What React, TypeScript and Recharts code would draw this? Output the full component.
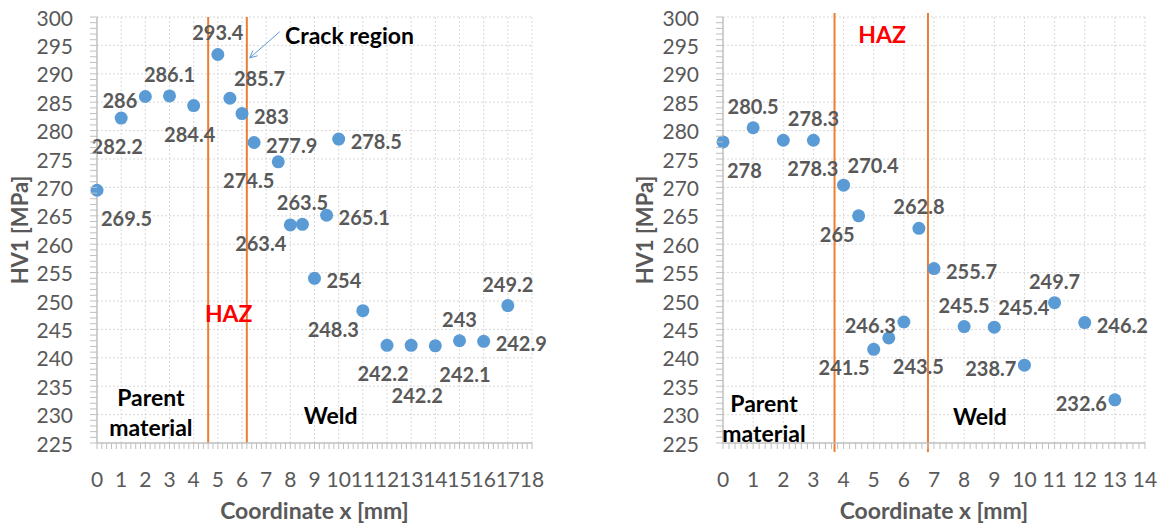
import React from 'react';
import { ScatterChart, Scatter, XAxis, YAxis, ReferenceLine, ReferenceDot } from 'recharts';

// left panel: crack sample
const leftX = [0, 1, 2, 3, 4, 5, 5.5, 6, 6.5, 7.5, 8, 8.5, 9, 9.5, 10, 11, 12, 13, 14, 15, 16, 17];
const leftHV = [269.5, 282.2, 286, 286.1, 284.4, 293.4, 285.7, 283, 277.9, 274.5, 263.4, 263.5, 254, 265.1, 278.5, 248.3, 242.2, 242.2, 242.1, 243, 242.9, 249.2];
const leftSide = ['br', 'b', 'l', 'a', 'b', 'a', 'ar', 'r', 'r', 'bl', 'bl', 'a', 'r', 'r', 'r', 'bl', 'b', 'bb', 'br', 'a', 'r', 'a'];
const leftXTicks = [0, 1, 2, 3, 4, 5, 6, 7, 8, 9, 10, 11, 12, 13, 14, 15, 16, 17, 18];
const leftHaz = [4.6, 6.2];

// right panel
const rightX = [0, 1, 2, 3, 4, 4.5, 5, 5.5, 6, 6.5, 7, 8, 9, 10, 11, 12, 13];
const rightHV = [278, 280.5, 278.3, 278.3, 270.4, 265, 241.5, 243.5, 246.3, 262.8, 255.7, 245.5, 245.4, 238.7, 249.7, 246.2, 232.6];
const rightSide = ['br', 'a', 'br', 'a', 'ar', 'bl', 'bl', 'br', 'l', 'a', 'r', 'a', 'ar', 'l', 'a', 'r', 'l'];
const rightXTicks = [0, 1, 2, 3, 4, 5, 6, 7, 8, 9, 10, 11, 12, 13, 14];
const rightHaz = [3.7, 6.8];

const yTicks = [225, 230, 235, 240, 245, 250, 255, 260, 265, 270, 275, 280, 285, 290, 295, 300];

const GREY = '#595959';
const AXIS = '#bfbfbf';
const GRID = '#d9d9d9';
const DOT = '#5B9BD5';
const ORANGE = '#ED7D31';
const FONT = 'Lato, "Open Sans", sans-serif';

const sides: Record<string, { anchor: 'start' | 'middle' | 'end'; dx: number; dy: number }> = {
  a: { anchor: 'middle', dx: 0, dy: -22 },
  b: { anchor: 'middle', dx: -4, dy: 28 },
  bb: { anchor: 'middle', dx: 6, dy: 50 },
  l: { anchor: 'end', dx: -8, dy: 3 },
  r: { anchor: 'start', dx: 12, dy: 2 },
  ar: { anchor: 'start', dx: 4, dy: -20 },
  br: { anchor: 'start', dx: 4, dy: 28 },
  bl: { anchor: 'end', dx: -4, dy: 18 },
};

// minor ticks between the labelled ones
const steps = (lo: number, hi: number, step: number) => {
  const out: number[] = [];
  const n = Math.round((hi - lo) / step);
  for (let i = 0; i <= n; i++) out.push(Math.round((lo + i * step) * 100) / 100);
  return out;
};

const PointMark = (props: any) => {
  const { cx, cy, payload } = props;
  const s = sides[payload.side];
  return (
    <g>
      <circle cx={cx} cy={cy} r={6.5} fill={DOT} />
      <text
        x={cx + s.dx}
        y={cy + s.dy}
        textAnchor={s.anchor}
        dominantBaseline="central"
        fill={GREY}
        fontSize={20}
        fontWeight={700}
      >
        {payload.label}
      </text>
    </g>
  );
};

const makeYTick = (majors: number[]) => (props: any) => {
  const { x, y, payload } = props;
  const major = majors.includes(payload.value);
  return (
    <g>
      <line x1={x - 7} x2={x} y1={y} y2={y} stroke={AXIS} strokeWidth={1} />
      {major && (
        <text x={x - 24} y={y} textAnchor="end" dominantBaseline="central" fill={GREY} fontSize={21}>
          {payload.value}
        </text>
      )}
    </g>
  );
};

const makeXTick = (majors: number[]) => (props: any) => {
  const { x, y, payload } = props;
  const major = majors.includes(payload.value);
  return (
    <g>
      <line x1={x} x2={x} y1={y} y2={y + 6} stroke={AXIS} strokeWidth={1} />
      {major && (
        <text x={x} y={y + 35} textAnchor="middle" dominantBaseline="central" fill={GREY} fontSize={21}>
          {payload.value}
        </text>
      )}
    </g>
  );
};

type Note = { x: number; y: number; lines: string[]; color: string };

const noteShape = (n: Note) => (p: any) => (
  <text x={p.cx} y={p.cy} textAnchor="middle" dominantBaseline="central" fill={n.color} fontSize={23} fontWeight={700}>
    {n.lines.map((l, i) => (
      <tspan key={i} x={p.cx} dy={i === 0 ? 0 : 30}>
        {l}
      </tspan>
    ))}
  </text>
);

const ArrowShape = (p: any) => {
  const { x1, y1, x2, y2 } = p;
  const ang = Math.atan2(y2 - y1, x2 - x1);
  const len = 8;
  const ax = x2 - len * Math.cos(ang - 0.45);
  const ay = y2 - len * Math.sin(ang - 0.45);
  const bx = x2 - len * Math.cos(ang + 0.45);
  const by = y2 - len * Math.sin(ang + 0.45);
  return (
    <g>
      <line x1={x1} y1={y1} x2={x2} y2={y2} stroke={DOT} strokeWidth={1} />
      <polyline points={`${ax},${ay} ${x2},${y2} ${bx},${by}`} fill="none" stroke={DOT} strokeWidth={1} />
    </g>
  );
};

const leftNotes: Note[] = [
  { x: 2.23, y: 233.1, lines: ['Parent', 'material'], color: '#000' },
  { x: 5.45, y: 247.9, lines: ['HAZ'], color: '#ff0000' },
  { x: 9.67, y: 230.0, lines: ['Weld'], color: '#000' },
  { x: 10.45, y: 296.8, lines: ['Crack region'], color: '#000' },
];

const rightNotes: Note[] = [
  { x: 1.36, y: 232.0, lines: ['Parent', 'material'], color: '#000' },
  { x: 5.28, y: 297.0, lines: ['HAZ'], color: '#ff0000' },
  { x: 8.52, y: 229.8, lines: ['Weld'], color: '#000' },
];

type PanelProps = {
  xs: number[];
  hv: number[];
  side: string[];
  xTicks: number[];
  haz: number[];
  notes: Note[];
  width: number;
  yAxisWidth: number;
  rightMargin: number;
  yTitleX: number;
  arrow?: boolean;
  hazExtend?: boolean;
};

const Panel = ({ xs, hv, side, xTicks, haz, notes, width, yAxisWidth, rightMargin, yTitleX, arrow, hazExtend }: PanelProps) => {
  const data = xs.map((x, i) => ({ x, y: hv[i], label: String(hv[i]), side: side[i] }));
  const xMax = xTicks[xTicks.length - 1];
  const xAll = steps(0, xMax, 0.2);
  const yAll = steps(225, 300, 1);
  return (
    <ScatterChart width={width} height={525} margin={{ top: 17, right: rightMargin, bottom: 0, left: 0 }}>
      {xTicks.slice(1).map((t) => (
        <ReferenceLine key={`vx${t}`} x={t} stroke={GRID} strokeDasharray="2 2" />
      ))}
      {yTicks.slice(1).map((t) => (
        <ReferenceLine key={`hy${t}`} y={t} stroke={GRID} strokeDasharray="2 2" />
      ))}
      <XAxis
        type="number"
        dataKey="x"
        domain={[0, xMax]}
        ticks={xAll}
        interval={0}
        tickSize={0}
        tickMargin={0}
        tickLine={false}
        tick={makeXTick(xTicks)}
        axisLine={{ stroke: AXIS, strokeWidth: 1.5 }}
        height={82}
        label={(p: any) => {
          const vb = p.viewBox;
          return (
            <text x={vb.x + vb.width / 2} y={vb.y + 67} textAnchor="middle" dominantBaseline="central" fill={GREY} fontSize={23} fontWeight={700}>
              Coordinate x [mm]
            </text>
          );
        }}
      />
      <YAxis
        type="number"
        dataKey="y"
        domain={[225, 300]}
        ticks={yAll}
        interval={0}
        tickSize={0}
        tickMargin={0}
        tickLine={false}
        tick={makeYTick(yTicks)}
        axisLine={{ stroke: AXIS, strokeWidth: 1.5 }}
        width={yAxisWidth}
        label={(p: any) => {
          const vb = p.viewBox;
          const cx = vb.x + yTitleX;
          const cy = vb.y + vb.height / 2;
          return (
            <text x={cx} y={cy} transform={`rotate(-90 ${cx} ${cy})`} textAnchor="middle" dominantBaseline="central" fill={GREY} fontSize={22} fontWeight={700}>
              HV1 [MPa]
            </text>
          );
        }}
      />
      {haz.map((h) =>
        hazExtend ? (
          <ReferenceLine
            key={`haz${h}`}
            segment={[{ x: h, y: 300.7 }, { x: h, y: 223.4 }]}
            ifOverflow="visible"
            stroke={ORANGE}
            strokeWidth={2}
          />
        ) : (
          <ReferenceLine key={`haz${h}`} x={h} stroke={ORANGE} strokeWidth={2} />
        )
      )}
      {arrow && (
        <ReferenceLine
          segment={[{ x: 7.56, y: 297.4 }, { x: 6.32, y: 292.8 }]}
          ifOverflow="visible"
          shape={ArrowShape}
        />
      )}
      {notes.map((n, i) => (
        <ReferenceDot key={`n${i}`} x={n.x} y={n.y} r={1} ifOverflow="visible" shape={noteShape(n)} />
      ))}
      <Scatter data={data} shape={PointMark} isAnimationActive={false} />
    </ScatterChart>
  );
};

export default function App() {
  return (
    <div style={{ position: 'absolute', left: 0, top: 0, width: 1167, height: 525, background: '#fff', fontFamily: FONT }}>
      <div style={{ position: 'absolute', left: 0, top: 0 }}>
        <Panel
          xs={leftX}
          hv={leftHV}
          side={leftSide}
          xTicks={leftXTicks}
          haz={leftHaz}
          notes={leftNotes}
          width={580}
          yAxisWidth={97}
          rightMargin={48}
          yTitleX={19}
          arrow
        />
      </div>
      <div style={{ position: 'absolute', left: 590, top: 0 }}>
        <Panel
          xs={rightX}
          hv={rightHV}
          side={rightSide}
          xTicks={rightXTicks}
          haz={rightHaz}
          notes={rightNotes}
          width={577}
          yAxisWidth={133}
          rightMargin={22}
          yTitleX={54}
          hazExtend
        />
      </div>
    </div>
  );
}
